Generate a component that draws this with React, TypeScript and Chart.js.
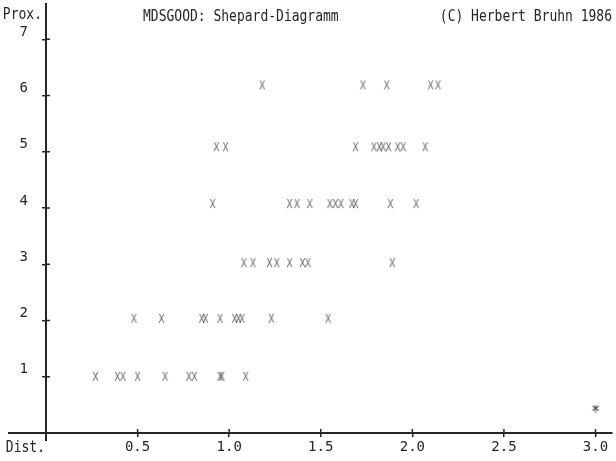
import React, { useEffect, useRef } from 'react';
import { Chart, registerables } from 'chart.js';

Chart.register(...registerables);

const TITLE = 'MDSGOOD: Shepard-Diagramm';
const COPYRIGHT = '(C) Herbert Bruhn 1986';
const X_NAME = 'Dist.';
const Y_NAME = 'Prox.';

const xTickValues = [0.5, 1.0, 1.5, 2.0, 2.5, 3.0];
const xTickLabels = ['0.5', '1.0', '1.5', '2.0', '2.5', '3.0'];
const yTickValues = [1, 2, 3, 4, 5, 6, 7];
const yTickLabels = ['1', '2', '3', '4', '5', '6', '7'];

// Proximity level of each printed row
const proxLevels = [1.0, 2.03, 3.02, 4.07, 5.08, 6.18];

// Distances of the points in each row
const distRow1 = [0.27, 0.39, 0.42, 0.5, 0.65, 0.78, 0.81, 0.95, 0.96, 1.09];
const distRow2 = [0.48, 0.63, 0.85, 0.87, 0.95, 1.03, 1.05, 1.07, 1.23, 1.54];
const distRow3 = [1.08, 1.13, 1.22, 1.26, 1.33, 1.4, 1.43, 1.89];
const distRow4 = [0.91, 1.33, 1.37, 1.44, 1.55, 1.58, 1.61, 1.67, 1.69, 1.88, 2.02];
const distRow5 = [0.93, 0.98, 1.69, 1.79, 1.82, 1.84, 1.87, 1.92, 1.95, 2.07];
const distRow6 = [1.18, 1.73, 1.86, 2.1, 2.14];

const distRows = [distRow1, distRow2, distRow3, distRow4, distRow5, distRow6];

const starDist = [3.0];
const starProx = [0.36];

const FONT = "'DejaVu Sans Mono', 'Liberation Mono', monospace";
const TEXT_COLOR = '#262626';
const AXIS_COLOR = '#262626';

function makeGlyph(ch: string, color: string, w: number, h: number, size: number) {
  const c = document.createElement('canvas');
  c.width = w;
  c.height = h;
  const g = c.getContext('2d')!;
  g.fillStyle = color;
  g.textAlign = 'center';
  g.textBaseline = 'middle';
  g.font = `${size}px ${FONT}`;
  g.save();
  g.translate(w / 2, h / 2 + 0.5);
  g.scale(1, 1.25);
  g.fillText(ch, 0, 0);
  g.restore();
  return c;
}

function stretchedText(ctx: CanvasRenderingContext2D, text: string, x: number, y: number, align: CanvasTextAlign, size: number) {
  ctx.save();
  ctx.font = `${size}px ${FONT}`;
  ctx.fillStyle = TEXT_COLOR;
  ctx.textAlign = align;
  ctx.textBaseline = 'middle';
  ctx.translate(x, y);
  ctx.scale(1, 1.25);
  ctx.fillText(text, 0, 0);
  ctx.restore();
}

const decorPlugin = {
  id: 'decor',
  afterDraw(chart: any) {
    const { ctx, scales } = chart;
    const xs = scales.x;
    const ys = scales.y;
    const x0 = xs.getPixelForValue(0);
    const y0 = ys.getPixelForValue(0);
    ctx.save();
    ctx.strokeStyle = AXIS_COLOR;
    ctx.lineWidth = 2;
    ctx.beginPath();
    ctx.moveTo(8, y0);
    ctx.lineTo(x0, y0);
    ctx.moveTo(x0, y0);
    ctx.lineTo(x0, y0 + 8);
    ctx.moveTo(x0, chart.chartArea.top);
    ctx.lineTo(x0, 3);
    ctx.stroke();
    ctx.lineWidth = 1.5;
    ctx.beginPath();
    xTickValues.forEach((v) => {
      const px = xs.getPixelForValue(v);
      ctx.moveTo(px, y0);
      ctx.lineTo(px, y0 - 4);
    });
    yTickValues.forEach((v) => {
      const py = ys.getPixelForValue(v);
      ctx.moveTo(x0, py);
      ctx.lineTo(x0 + 4, py);
    });
    ctx.stroke();
    ctx.restore();

    stretchedText(ctx, Y_NAME, x0 - 4, 15, 'right', 13);
    stretchedText(ctx, X_NAME, x0 - 1, y0 + 15, 'right', 13);
    stretchedText(ctx, TITLE, 143, 17, 'left', 13);
    stretchedText(ctx, COPYRIGHT, chart.chartArea.right, 17, 'right', 13);
  },
};

export default function App() {
  const ref = useRef<HTMLCanvasElement | null>(null);

  useEffect(() => {
    if (!ref.current) return;
    const xGlyph = makeGlyph('X', 'rgba(40,40,40,0.7)', 9, 14, 10);
    const starGlyph = makeGlyph('*', 'rgba(25,25,25,0.95)', 12, 16, 15);

    const points: { x: number; y: number }[] = [];
    distRows.forEach((row, i) => {
      row.forEach((d) => points.push({ x: d, y: proxLevels[i] }));
    });
    const stars = starDist.map((d, i) => ({ x: d, y: starProx[i] }));

    const chart = new Chart(ref.current, {
      type: 'scatter',
      data: {
        datasets: [
          {
            label: 'Shepard',
            data: points,
            pointStyle: xGlyph as any,
            pointRadius: 4,
            showLine: false,
          },
          {
            label: 'Stress',
            data: stars,
            pointStyle: starGlyph as any,
            pointRadius: 4,
            showLine: false,
          },
        ],
      },
      options: {
        animation: false,
        responsive: false,
        layout: { autoPadding: false, padding: { top: 5, right: 4, left: 0, bottom: 0 } },
        plugins: {
          legend: { display: false },
          tooltip: { enabled: false },
          title: { display: false },
        },
        scales: {
          x: {
            type: 'linear',
            min: 0,
            max: 3.09,
            afterBuildTicks: (s: any) => {
              s.ticks = xTickValues.map((v) => ({ value: v }));
            },
            afterFit: (s: any) => {
              s.height = 28;
            },
            ticks: {
              autoSkip: false,
              maxRotation: 0,
              padding: 2,
              color: TEXT_COLOR,
              font: { family: FONT, size: 14 },
              callback: (v: any) => xTickLabels[xTickValues.indexOf(Number(v))] ?? '',
            },
            grid: { drawOnChartArea: false, tickLength: 4, color: AXIS_COLOR, lineWidth: 1.5 },
            border: { display: true, color: AXIS_COLOR, width: 2 },
          },
          y: {
            type: 'linear',
            min: 0,
            max: 7.3,
            afterBuildTicks: (s: any) => {
              s.ticks = yTickValues.map((v) => ({ value: v }));
            },
            afterFit: (s: any) => {
              s.width = 46;
            },
            ticks: {
              autoSkip: false,
              padding: 14,
              labelOffset: -7,
              color: TEXT_COLOR,
              font: { family: FONT, size: 14 },
              callback: (v: any) => yTickLabels[yTickValues.indexOf(Number(v))] ?? '',
            },
            grid: { drawOnChartArea: false, tickLength: 4, color: AXIS_COLOR, lineWidth: 1.5 },
            border: { display: true, color: AXIS_COLOR, width: 2 },
          },
        },
      },
      plugins: [decorPlugin],
    });
    return () => chart.destroy();
  }, []);

  return (
    <div style={{ position: 'absolute', left: 0, top: 0, width: 616, height: 461, background: '#fff' }}>
      <canvas ref={ref} width={616} height={461} style={{ display: 'block' }} />
    </div>
  );
}
